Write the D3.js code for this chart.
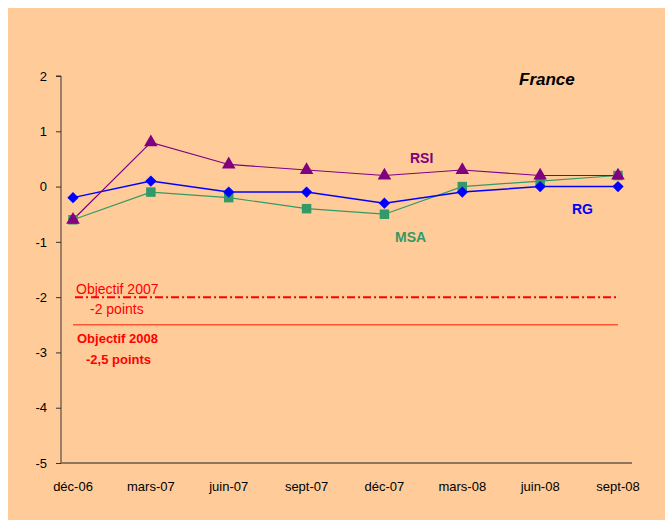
<!DOCTYPE html>
<html>
<head>
<meta charset="utf-8">
<script src="https://cdn.jsdelivr.net/npm/d3@7"></script>
<style>
  body { margin: 0; background: #fff; }
  text { font-family: "Liberation Sans", Arial, sans-serif; }
</style>
</head>
<body>
<script>
const months = ['déc-06', 'mars-07', 'juin-07', 'sept-07', 'déc-07', 'mars-08', 'juin-08', 'sept-08'];
const rg = [-0.2, 0.1, -0.1, -0.1, -0.3, -0.1, 0, 0];
const msa = [-0.6, -0.1, -0.2, -0.4, -0.5, 0, 0.1, 0.2];
const rsi = [-0.6, 0.8, 0.4, 0.3, 0.2, 0.3, 0.2, 0.2];
const yTicks = [2, 1, 0, -1, -2, -3, -4, -5];
const obj2007 = -2;
const obj2008 = -2.5;

const W = 665;
const H = 520;

const svg = d3.select('body')
  .append('svg')
  .attr('width', W)
  .attr('height', H);

svg.append('rect')
  .attr('x', 8)
  .attr('y', 8)
  .attr('width', W - 8)
  .attr('height', H - 8)
  .attr('fill', '#ffcc99');

const xScale = d3.scalePoint()
  .domain(months)
  .range([73, 618]);

const yScale = d3.scaleLinear()
  .domain([-5, 2])
  .range([463, 76]);

// y axis
const yAxis = d3.axisLeft(yScale)
  .tickValues(yTicks)
  .tickSize(5)
  .tickFormat((d) => String(d));
const gy = svg.append('g')
  .attr('transform', 'translate(61,0)')
  .call(yAxis);
gy.select('.domain').attr('stroke', '#333').attr('d', `M-5,${yScale(2)}H0V${yScale(-5)}`);
gy.selectAll('.tick line').attr('stroke', '#333');
gy.selectAll('.tick text')
  .attr('x', -14)
  .attr('fill', '#000')
  .style('font-size', '13px');

// x axis
svg.append('line')
  .attr('x1', 61)
  .attr('x2', 632)
  .attr('y1', yScale(-5))
  .attr('y2', yScale(-5))
  .attr('stroke', '#6b5a4d')
  .attr('stroke-width', 1.5);

svg.append('g')
  .selectAll('text')
  .data(months)
  .join('text')
  .attr('x', (d) => xScale(d))
  .attr('y', 491)
  .attr('text-anchor', 'middle')
  .style('font-size', '13px')
  .attr('fill', '#000')
  .text((d) => d);

// objectives
svg.append('line')
  .attr('x1', 75)
  .attr('x2', 618)
  .attr('y1', yScale(obj2007))
  .attr('y2', yScale(obj2007))
  .attr('stroke', '#ff0000')
  .attr('stroke-width', 2)
  .attr('stroke-dasharray', '8,3,2,3');

svg.append('line')
  .attr('x1', 73)
  .attr('x2', 618)
  .attr('y1', yScale(obj2008))
  .attr('y2', yScale(obj2008))
  .attr('stroke', '#ff5533')
  .attr('stroke-width', 1.5);

svg.append('text')
  .attr('x', 76)
  .attr('y', 294)
  .attr('fill', '#ff0000')
  .style('font-size', '14px')
  .text('Objectif 2007');

svg.append('text')
  .attr('x', 90)
  .attr('y', 314)
  .attr('fill', '#ff0000')
  .style('font-size', '14px')
  .text('-2 points');

svg.append('text')
  .attr('x', 77)
  .attr('y', 343)
  .attr('fill', '#ff0000')
  .style('font-size', '13px')
  .style('font-weight', 'bold')
  .text('Objectif 2008');

svg.append('text')
  .attr('x', 86)
  .attr('y', 364)
  .attr('fill', '#ff0000')
  .style('font-size', '13px')
  .style('font-weight', 'bold')
  .text('-2,5 points');

// series
const series = [
  { name: 'MSA', values: msa, color: '#339966', symbol: d3.symbolSquare, size: 90, rot: 0 },
  { name: 'RG', values: rg, color: '#0000ff', symbol: d3.symbolSquare, size: 64, rot: 45 },
  { name: 'RSI', values: rsi, color: '#800080', symbol: d3.symbolTriangle, size: 80, rot: 0 },
];

const line = d3.line()
  .x((d, i) => xScale(months[i]))
  .y((d) => yScale(d));

series.forEach((s) => {
  svg.append('path')
    .datum(s.values)
    .attr('fill', 'none')
    .attr('stroke', s.color)
    .attr('stroke-width', s.name === 'RG' ? 1.5 : 1.2)
    .attr('d', line);
});

series.forEach((s) => {
  svg.append('g')
    .selectAll('path')
    .data(s.values)
    .join('path')
    .attr('transform', (d, i) => `translate(${xScale(months[i])},${yScale(d)}) rotate(${s.rot})`)
    .attr('d', d3.symbol().type(s.symbol).size(s.size))
    .attr('fill', s.color);
});

// series labels
svg.append('text')
  .attr('x', 410)
  .attr('y', 163)
  .attr('fill', '#800080')
  .style('font-size', '14px')
  .style('font-weight', 'bold')
  .text('RSI');

svg.append('text')
  .attr('x', 572)
  .attr('y', 214)
  .attr('fill', '#0000ff')
  .style('font-size', '14px')
  .style('font-weight', 'bold')
  .text('RG');

svg.append('text')
  .attr('x', 395)
  .attr('y', 242)
  .attr('fill', '#339966')
  .style('font-size', '14px')
  .style('font-weight', 'bold')
  .text('MSA');

svg.append('text')
  .attr('x', 519)
  .attr('y', 85)
  .attr('fill', '#000')
  .style('font-size', '17px')
  .style('font-weight', 'bold')
  .style('font-style', 'italic')
  .text('France');
</script>
</body>
</html>
